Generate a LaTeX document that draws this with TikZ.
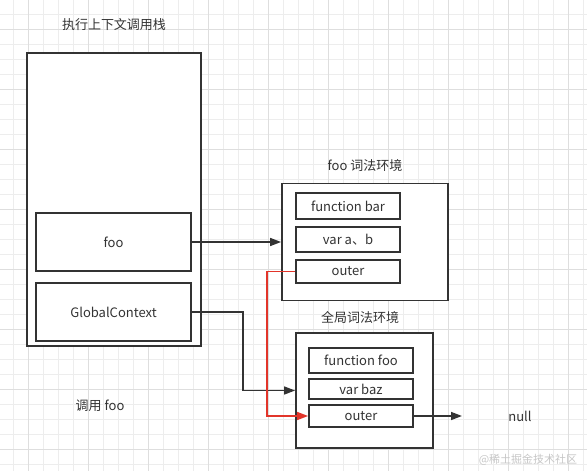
\documentclass[tikz,border=0pt]{standalone}
\usepackage{fontspec}
\setmainfont{Noto Sans CJK SC}
\usepackage{xcolor}
\usepackage{tikz}
\usetikzlibrary{arrows.meta,positioning,calc}

\definecolor{ink}{HTML}{333333}
\definecolor{linkred}{HTML}{E2352A}
\definecolor{gridlo}{HTML}{EDEDED}
\definecolor{gridhi}{HTML}{DEDEDE}

\tikzset{
  box/.style={draw=ink, line width=1.8pt, fill=white, inner sep=0pt, text=ink, font=\fontsize{13}{15}\selectfont},
  caption/.style={text=ink, font=\fontsize{13}{15}\selectfont},
  link/.style={draw=ink, line width=1.5pt, -{Triangle[length=11pt,width=8pt]}},
  redlink/.style={link, draw=linkred}
}

\begin{document}
\begin{tikzpicture}[x=1pt, y=-1pt]
\useasboundingbox (0,0) rectangle (587,471);

% Background grid
\foreach \gx in {13,28,...,583} \draw[gridlo, line width=0.6pt] (\gx,0) -- (\gx,471);
\foreach \gy in {14,29,...,464} \draw[gridlo, line width=0.6pt] (0,\gy) -- (587,\gy);
\foreach \gx in {28,88,...,568} \draw[gridhi, line width=0.8pt] (\gx,0) -- (\gx,471);
\foreach \gy in {29,89,...,449} \draw[gridhi, line width=0.8pt] (0,\gy) -- (587,\gy);

% Call stack
\node[caption] (stacktitle) at (114,25) {执行上下文调用栈};
\node[box, minimum width=174pt, minimum height=293pt] (stack) at (114,199.5) {};
\node[box, minimum width=155pt, minimum height=58pt] (foo) at (113.5,242) {foo};
\node[box, minimum width=155pt, minimum height=58pt] (global) at (113.5,312) {GlobalContext};
\node[caption] (calltext) at (100,406) {调用 foo};

% foo lexical environment
\node[caption] (footitle) at (365,166) {foo 词法环境};
\node[box, minimum width=166pt, minimum height=117pt] (fooenv) at (365,242) {};
\node[box, minimum width=104pt, minimum height=26pt] (fbar) at (348,206) {function bar};
\node[box, minimum width=104pt, minimum height=25pt] (vab) at (348,239.5) {var a、b};
\node[box, minimum width=104pt, minimum height=23pt] (fouter) at (348,271.5) {outer};

% Global lexical environment
\node[caption] (globaltitle) at (360,318) {全局词法环境};
\node[box, minimum width=137pt, minimum height=115pt] (genv) at (364.5,390.5) {};
\node[box, minimum width=104pt, minimum height=25pt] (ffoo) at (361,360.5) {function foo};
\node[box, minimum width=104pt, minimum height=20pt] (vbaz) at (361,389) {var baz};
\node[box, minimum width=104pt, minimum height=22pt] (gouter) at (361,416) {outer};

\node[caption] (null) at (520,416) {null};
\coordinate (nullend) at (462,416);

% Links
\coordinate (gbend) at (243,312);
\coordinate (obend) at (267,271.5);
\draw[link] (foo.east) -- (fooenv.west);
\draw[link] (global.east) -- (gbend) |- (genv.west);
\draw[redlink] (fouter.west) -- (obend) |- (gouter.west);
\draw[link] (gouter.east) -- (nullend);

% Watermark
\node[text=gray!45, font=\fontsize{11}{13}\selectfont] (mark) at (528,460) {@稀土掘金技术社区};

\end{tikzpicture}
\end{document}
